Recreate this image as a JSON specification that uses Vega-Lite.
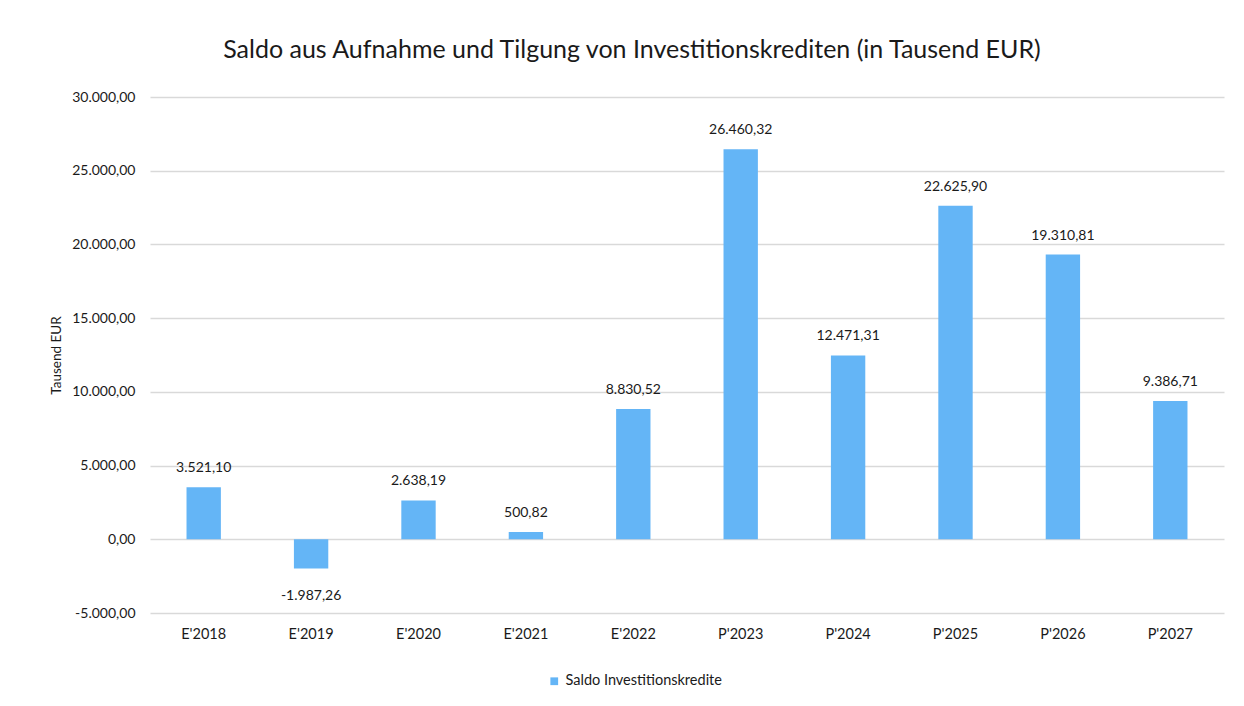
{
  "$schema": "https://vega.github.io/schema/vega-lite/v6.json",
  "autosize": {"type": "none"},
  "padding": {"left": 150, "top": 97, "right": 20, "bottom": 93},
  "width": 1074,
  "height": 516,
  "background": "white",
  "config": {
    "font": "Lato",
    "locale": {"number": {"decimal": ",", "thousands": ".", "grouping": [3], "currency": ["", " €"], "minus": "-"}},
    "view": {"stroke": null}
  },
  "title": {
    "text": "Saldo aus Aufnahme und Tilgung von Investitionskrediten (in Tausend EUR)",
    "font": "Lato",
    "fontSize": 25,
    "fontWeight": "normal",
    "color": "#1a1a1a",
    "anchor": "middle",
    "frame": "group",
    "dx": -55,
    "offset": 27
  },
  "data": {
    "values": [
      {"jahr": "E'2018", "wert": 3521.10, "serie": "Saldo Investitionskredite"},
      {"jahr": "E'2019", "wert": -1987.26, "serie": "Saldo Investitionskredite"},
      {"jahr": "E'2020", "wert": 2638.19, "serie": "Saldo Investitionskredite"},
      {"jahr": "E'2021", "wert": 500.82, "serie": "Saldo Investitionskredite"},
      {"jahr": "E'2022", "wert": 8830.52, "serie": "Saldo Investitionskredite"},
      {"jahr": "P'2023", "wert": 26460.32, "serie": "Saldo Investitionskredite"},
      {"jahr": "P'2024", "wert": 12471.31, "serie": "Saldo Investitionskredite"},
      {"jahr": "P'2025", "wert": 22625.90, "serie": "Saldo Investitionskredite"},
      {"jahr": "P'2026", "wert": 19310.81, "serie": "Saldo Investitionskredite"},
      {"jahr": "P'2027", "wert": 9386.71, "serie": "Saldo Investitionskredite"}
    ]
  },
  "encoding": {
    "x": {
      "field": "jahr",
      "type": "nominal",
      "sort": null,
      "scale": {"paddingInner": 0.68, "paddingOuter": 0.34},
      "axis": {
        "title": null,
        "labelAngle": 0,
        "domain": false,
        "ticks": false,
        "labelPadding": 14,
        "labelFontSize": 14.5,
        "labelColor": "#1a1a1a",
        "labelFont": "Lato"
      }
    },
    "y": {
      "field": "wert",
      "type": "quantitative",
      "scale": {"domain": [-5000, 30000], "nice": false, "zero": false},
      "axis": {
        "title": "Tausend EUR",
        "titleFontSize": 13.5,
        "titleFontWeight": "normal",
        "titleColor": "#1a1a1a",
        "titleFont": "Lato",
        "titlePadding": 8,
        "values": [-5000, 0, 5000, 10000, 15000, 20000, 25000, 30000],
        "format": ",.2f",
        "domain": false,
        "ticks": false,
        "labelPadding": 15,
        "labelFontSize": 14,
        "labelColor": "#1a1a1a",
        "labelFont": "Lato",
        "gridColor": "#d9d9d9",
        "gridWidth": 1.3
      }
    }
  },
  "layer": [
    {
      "mark": {"type": "bar"},
      "encoding": {
        "y2": {"datum": 0},
        "color": {
          "field": "serie",
          "type": "nominal",
          "scale": {"range": ["#64B5F6"]},
          "legend": {
            "title": null,
            "orient": "none",
            "legendX": 397,
            "legendY": 577,
            "symbolType": "square",
            "symbolSize": 60,
            "symbolStrokeWidth": 0,
            "labelFontSize": 14.5,
            "labelColor": "#1a1a1a",
            "labelFont": "Lato",
            "labelOffset": 4
          }
        }
      }
    },
    {
      "transform": [{"filter": "datum.wert >= 0"}],
      "mark": {"type": "text", "baseline": "alphabetic", "dy": -15, "fontSize": 14, "color": "#1a1a1a", "font": "Lato"},
      "encoding": {"text": {"field": "wert", "type": "quantitative", "format": ",.2f"}}
    },
    {
      "transform": [{"filter": "datum.wert < 0"}],
      "mark": {"type": "text", "baseline": "alphabetic", "dy": 31, "fontSize": 14, "color": "#1a1a1a", "font": "Lato"},
      "encoding": {"text": {"field": "wert", "type": "quantitative", "format": ",.2f"}}
    }
  ]
}
